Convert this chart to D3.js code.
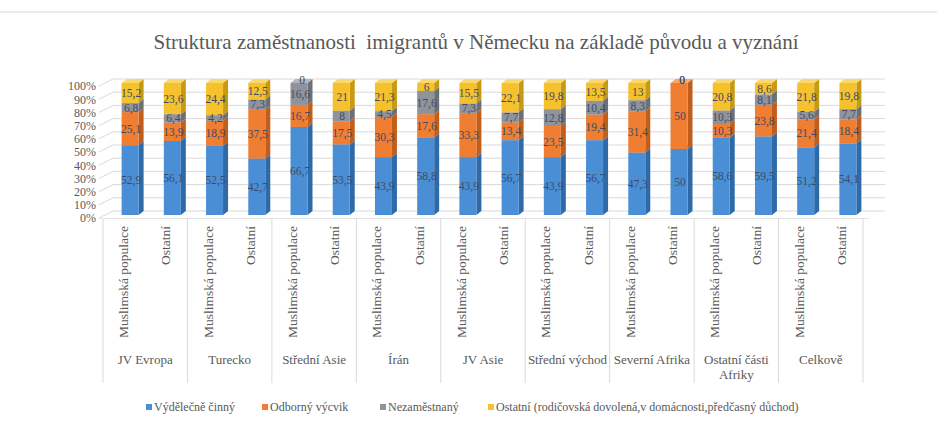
<!DOCTYPE html>
<html>
<head>
<meta charset="utf-8">
<script src="https://cdn.jsdelivr.net/npm/d3@7"></script>
<style>
  body { margin: 0; background: #fff; }
  svg { display: block; font-family: "Liberation Serif", "Times New Roman", serif; }
</style>
</head>
<body>
<svg id="chart"></svg>
<script>
(function () {
    'use strict';

    const width = 937;
    const height = 421;

    // data
    const regions = ['JV Evropa', 'Turecko', 'Střední Asie', 'Írán', 'JV Asie',
        'Střední východ', 'Severní Afrika', 'Ostatní části Afriky', 'Celkově'];
    const groups = ['Muslimská populace', 'Ostatní'];
    const seriesNames = ['Výdělečně činný', 'Odborný výcvik', 'Nezaměstnaný',
        'Ostatní (rodičovská dovolená,v domácnosti,předčasný důchod)'];
    const employed   = [52.9, 56.1, 52.5, 42.7, 66.7, 53.5, 43.9, 58.8, 43.9, 56.7, 43.9, 56.7, 47.3, 50, 58.6, 59.5, 51.2, 54.1];
    const training   = [25.1, 13.9, 18.9, 37.5, 16.7, 17.5, 30.3, 17.6, 33.3, 13.4, 23.5, 19.4, 31.4, 50, 10.3, 23.8, 21.4, 18.4];
    const unemployed = [6.8, 6.4, 4.2, 7.3, 16.6, 8, 4.5, 17.6, 7.3, 7.7, 12.8, 10.4, 8.3, 0, 10.3, 8.1, 5.6, 7.7];
    const other      = [15.2, 23.6, 24.4, 12.5, 0, 21, 21.3, 6, 15.5, 22.1, 19.8, 13.5, 13, 0, 20.8, 8.6, 21.8, 19.8];
    const yTicks = [0, 10, 20, 30, 40, 50, 60, 70, 80, 90, 100];

    const colors = ['#4a8fd6', '#ef7d32', '#8f939c', '#f5c12c'];
    const sideColors = ['#2e6aa8', '#c25e1b', '#6b6f78', '#c89a12'];
    const topColors = ['#7fb1e6', '#f6a66e', '#b3b6bd', '#fad86e'];

    const table = d3.range(regions.length * groups.length).map(i => ({
        i,
        region: regions[Math.floor(i / 2)],
        group: groups[i % 2],
        s0: employed[i], s1: training[i], s2: unemployed[i], s3: other[i]
    }));
    const stacked = d3.stack().keys(['s0', 's1', 's2', 's3'])(table);

    const svg = d3.select('#chart')
        .attr('width', width)
        .attr('height', height)
        .attr('viewBox', [0, 0, width, height]);

    // chart frame
    svg.append('line')
        .attr('x1', 0).attr('x2', width).attr('y1', 12).attr('y2', 12)
        .attr('stroke', '#d9d9d9');

    svg.append('text')
        .attr('x', 476).attr('y', 49)
        .attr('text-anchor', 'middle')
        .attr('font-size', 21)
        .attr('fill', '#595959')
        .text('Struktura zaměstnanosti  imigrantů v Německu na základě původu a vyznání')
        .style('white-space', 'pre');

    const axisLeft = 103, axisRight = 863;
    const x = d3.scaleBand().domain(d3.range(table.length)).range([axisLeft, axisRight]);
    const xg = d3.scaleBand().domain(regions).range([axisLeft, axisRight]);
    const yFront = d3.scaleLinear().domain([0, 100]).range([218, 86]);
    const yBar = d3.scaleLinear().domain([0, 100]).range([215, 83]);

    const wallDx = 14, wallDy = -7;
    const sideX = 99;
    const backRight = 885;

    // gridlines (side wall diagonals + back wall)
    const grid = svg.append('g').attr('stroke', '#d9d9d9').attr('fill', 'none');
    grid.selectAll('path').data(yTicks).join('path')
        .attr('d', d => `M${sideX},${yFront(d)}L${sideX + wallDx},${yFront(d) + wallDy}L${backRight},${yFront(d) + wallDy}`);

    // y axis labels
    svg.append('g')
        .attr('transform', `translate(${sideX - 3},0)`)
        .call(d3.axisLeft(yFront).tickValues(yTicks).tickSize(0).tickPadding(0).tickFormat(d => d + '%'))
        .call(g => g.select('.domain').remove())
        .call(g => g.selectAll('text')
            .attr('font-family', '"Liberation Serif", serif')
            .attr('font-size', 12)
            .attr('fill', '#595959'));

    // category axis separators
    const sep = d3.range(regions.length + 1).map(k => axisLeft + k * xg.bandwidth());
    svg.append('g').attr('stroke', '#d9d9d9')
        .selectAll('line').data(sep).join('line')
        .attr('x1', d => d).attr('x2', d => d)
        .attr('y1', 219).attr('y2', 383);
    svg.append('line')
        .attr('x1', sideX).attr('x2', axisRight + 6).attr('y1', 218.5).attr('y2', 218.5)
        .attr('stroke', '#e3e3e3');

    // bars
    const barW = 17, depthDx = 5, depthDy = -4, barShift = 6;
    const barX = i => x(i) + x.bandwidth() / 2 + barShift - barW / 2;

    const layers = svg.append('g');
    table.forEach((row, i) => {
        const g = layers.append('g');
        stacked.forEach((layer, k) => {
            const d = layer[i];
            if (d[1] - d[0] <= 0) return;
            const x0 = barX(i), x1 = x0 + barW;
            const yt = yBar(d[1]), yb = yBar(d[0]);
            g.append('path')
                .attr('d', `M${x1},${yb}L${x1 + depthDx},${yb + depthDy}L${x1 + depthDx},${yt + depthDy}L${x1},${yt}Z`)
                .attr('fill', sideColors[k]);
            g.append('path')
                .attr('d', `M${x0},${yt}L${x0 + depthDx},${yt + depthDy}L${x1 + depthDx},${yt + depthDy}L${x1},${yt}Z`)
                .attr('fill', topColors[k]);
            g.append('rect')
                .attr('x', x0).attr('y', yt)
                .attr('width', barW).attr('height', yb - yt)
                .attr('fill', colors[k]);
        });
    });

    // data labels (zero values sit on the bar's top cap)
    const fmt = v => String(v).replace('.', ',');
    const labels = svg.append('g')
        .attr('font-size', 11.5)
        .attr('fill', '#3d4b66')
        .attr('text-anchor', 'middle');
    stacked.forEach(layer => {
        labels.selectAll(null).data(layer).join('text')
            .attr('x', (d, i) => barX(i) + barW / 2 + (d[1] - d[0] > 0 ? 1 : 3))
            .attr('y', d => d[1] - d[0] > 0 ? (yBar(d[0]) + yBar(d[1])) / 2 + 4 : yBar(d[1]) + 1)
            .text(d => fmt(+(d[1] - d[0]).toFixed(1)));
    });

    // sub-category labels (rotated)
    svg.append('g')
        .attr('font-size', 13.5)
        .attr('fill', '#595959')
        .selectAll('text').data(table).join('text')
        .attr('transform', d => `translate(${x(d.i) + x.bandwidth() / 2 + 4},226) rotate(-90)`)
        .attr('text-anchor', 'end')
        .text(d => d.group);

    // region labels (wrapped)
    const regionText = svg.append('g')
        .attr('font-size', 13)
        .attr('fill', '#595959')
        .attr('text-anchor', 'middle')
        .selectAll('text').data(regions).join('text')
        .attr('x', d => xg(d) + xg.bandwidth() / 2)
        .attr('y', 364);
    regionText.each(function (d) {
        const t = d3.select(this);
        const words = d.split(' ');
        let line = [];
        let tspan = t.append('tspan').attr('x', xg(d) + xg.bandwidth() / 2).attr('dy', 0);
        words.forEach(w => {
            line.push(w);
            tspan.text(line.join(' '));
            if (tspan.node().getComputedTextLength() > xg.bandwidth() - 4 && line.length > 1) {
                line.pop();
                tspan.text(line.join(' '));
                line = [w];
                tspan = t.append('tspan').attr('x', xg(d) + xg.bandwidth() / 2).attr('dy', 15).text(w);
            }
        });
    });

    // legend
    const legendX = [146, 262, 380, 488];
    const legend = svg.append('g').attr('font-size', 12).attr('fill', '#595959');
    const items = legend.selectAll('g').data(seriesNames).join('g')
        .attr('transform', (d, k) => `translate(${legendX[k]},408)`);
    items.append('rect').attr('x', 0).attr('y', -4).attr('width', 6).attr('height', 6)
        .attr('fill', (d, k) => colors[k]);
    items.append('text').attr('x', 8).attr('y', 3).text(d => d);
})();
</script>
</body>
</html>
